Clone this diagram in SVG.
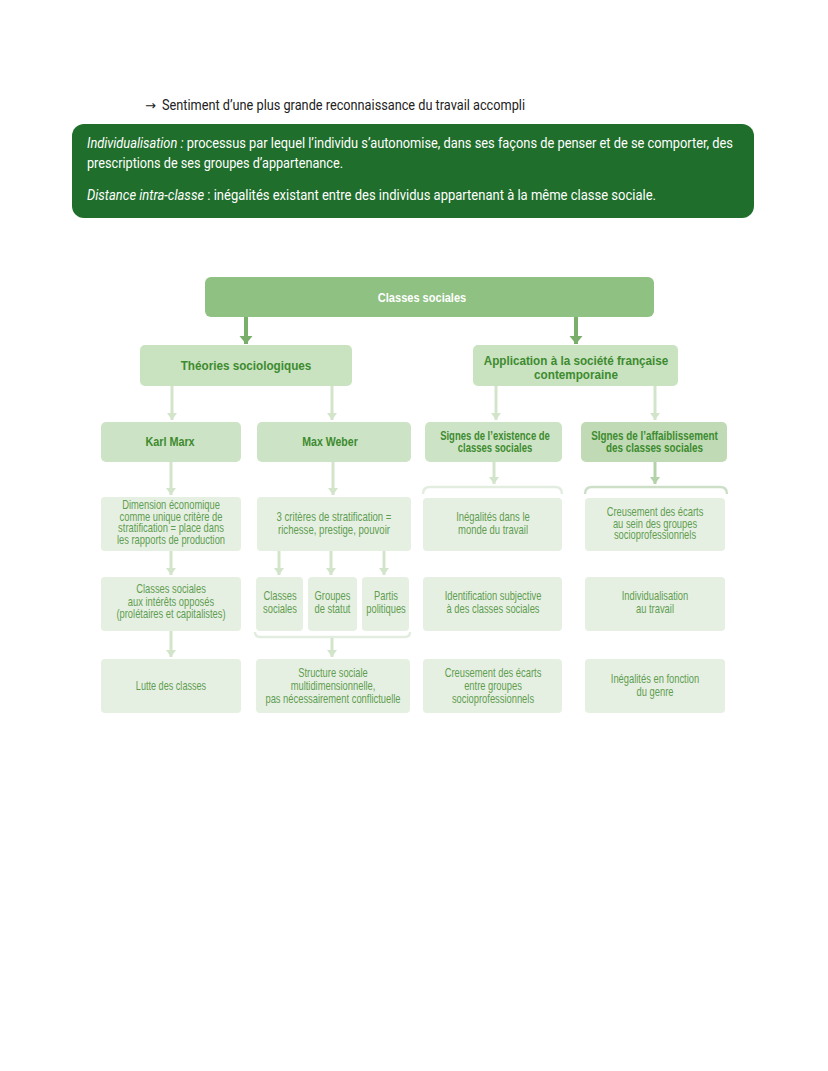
<svg xmlns="http://www.w3.org/2000/svg" width="828" height="1071" viewBox="0 0 828 1071">
<style>
.top{font-family:Roboto,"Liberation Sans",sans-serif;font-size:14px;fill:#222}
.arr{font-family:"DejaVu Sans",sans-serif;font-size:13px;fill:#222}
.def{font-family:Roboto,"Liberation Sans",sans-serif;font-size:14px;fill:#fff}
.it{font-style:italic}
.root{fill:#8fc182}
.l1{fill:#c9e2c0}
.l2{fill:#cde3c5}
.l2d{fill:#bfdab4}
.bx{fill:#e6f0e2}
.hw{font-family:"Liberation Sans",Arial,sans-serif;font-weight:bold;font-size:13px;fill:#fff;text-anchor:middle}
.h{font-family:"Liberation Sans",Arial,sans-serif;font-weight:bold;font-size:13px;fill:#3d8b2f;text-anchor:middle}
.h2{font-family:"Liberation Sans",Arial,sans-serif;font-weight:bold;font-size:12px;fill:#3d8b2f;text-anchor:middle}
.h3{font-family:"Liberation Sans",Arial,sans-serif;font-weight:bold;font-size:12.5px;fill:#3d8b2f;text-anchor:middle}
.t{font-family:"Liberation Sans",Arial,sans-serif;font-size:12px;fill:#5f9d51;text-anchor:middle}
.ad{stroke:#7aae6b;stroke-width:4;fill:none}
.al{stroke:#d2e5cb;stroke-width:3;fill:none}
.am{stroke:#b3d2a8;stroke-width:3;fill:none}
</style>
<defs>
<marker id="hd" markerUnits="userSpaceOnUse" viewBox="0 -7 8 14" markerWidth="8" markerHeight="14" refX="8" refY="0" orient="auto"><path d="M0,-6.5 L8,0 L0,6.5 Z" fill="#7aae6b"/></marker>
<marker id="hl" markerUnits="userSpaceOnUse" viewBox="0 -5 7 10" markerWidth="7" markerHeight="10" refX="7" refY="0" orient="auto"><path d="M0,-5 L7,0 L0,5 Z" fill="#d2e5cb"/></marker>
<marker id="hm" markerUnits="userSpaceOnUse" viewBox="0 -5 7 10" markerWidth="7" markerHeight="10" refX="7" refY="0" orient="auto"><path d="M0,-5 L7,0 L0,5 Z" fill="#b3d2a8"/></marker>
</defs>
<rect width="828" height="1071" fill="#fff"/>

<g id="intro">
<text class="arr" x="145" y="110">→</text>
<text class="top" x="162" y="110" textLength="363" lengthAdjust="spacingAndGlyphs">Sentiment d’une plus grande reconnaissance du travail accompli</text>
</g>

<g id="definitions">
<rect x="72" y="124" width="682" height="94" rx="12" fill="#1f6e2b"/>
<text class="def" x="87" y="148" textLength="646" lengthAdjust="spacingAndGlyphs"><tspan class="it">Individualisation :</tspan> processus par lequel l’individu s’autonomise, dans ses façons de penser et de se comporter, des</text>
<text class="def" x="87" y="168" textLength="256" lengthAdjust="spacingAndGlyphs">prescriptions de ses groupes d’appartenance.</text>
<text class="def" x="87" y="200" textLength="569" lengthAdjust="spacingAndGlyphs"><tspan class="it">Distance intra-classe</tspan> : inégalités existant entre des individus appartenant à la même classe sociale.</text>
</g>

<g id="connectors">
<line class="ad" x1="246" y1="317" x2="246" y2="344" marker-end="url(#hd)"/>
<line class="ad" x1="576" y1="317" x2="576" y2="344" marker-end="url(#hd)"/>
<line class="al" x1="172" y1="386" x2="172" y2="420" marker-end="url(#hl)"/>
<line class="al" x1="332" y1="386" x2="332" y2="420" marker-end="url(#hl)"/>
<line class="al" x1="496" y1="386" x2="496" y2="420" marker-end="url(#hl)"/>
<line class="al" x1="655" y1="386" x2="655" y2="420" marker-end="url(#hl)"/>
<line class="al" x1="171" y1="462" x2="171" y2="495" marker-end="url(#hl)"/>
<line class="al" x1="333" y1="462" x2="333" y2="495" marker-end="url(#hl)"/>
<line class="al" x1="494" y1="462" x2="494" y2="484" marker-end="url(#hl)"/>
<line class="am" x1="655" y1="462" x2="655" y2="484" marker-end="url(#hm)"/>
<path d="M423,494 Q423,487 430,487 L555,487 Q562,487 562,494" stroke="#e2ede0" stroke-width="2.5" fill="none"/>
<path d="M585,494 Q585,487 592,487 L720,487 Q727,487 727,494" stroke="#cde0c7" stroke-width="2.5" fill="none"/>
<line class="al" x1="171" y1="551" x2="171" y2="575" marker-end="url(#hl)"/>
<line class="al" x1="279" y1="551" x2="279" y2="575" marker-end="url(#hl)"/>
<line class="al" x1="331" y1="551" x2="331" y2="575" marker-end="url(#hl)"/>
<line class="al" x1="384" y1="551" x2="384" y2="575" marker-end="url(#hl)"/>
<path d="M255,632 Q255,637 260,637 L405,637 Q410,637 410,632" stroke="#e2ede0" stroke-width="2.5" fill="none"/>
<line class="al" x1="171" y1="631" x2="171" y2="657" marker-end="url(#hl)"/>
<line class="al" x1="332" y1="638" x2="332" y2="657" marker-end="url(#hl)"/>
</g>

<g id="n-classes">
<rect class="root" x="205" y="277" width="449" height="40" rx="6"/>
<text class="hw" transform="translate(422 302) scale(0.85 1)">Classes sociales</text>
</g>

<g id="n-theories">
<rect class="l1" x="140" y="345" width="212" height="41" rx="5"/>
<text class="h" transform="translate(246 369.5) scale(0.9 1)">Théories sociologiques</text>
</g>

<g id="n-application">
<rect class="l1" x="473" y="345" width="205" height="41" rx="5"/>
<text class="h" transform="translate(576 365) scale(0.9 1)">Application à la société française</text>
<text class="h" transform="translate(576 379) scale(0.9 1)">contemporaine</text>
</g>

<g id="n-marx">
<rect class="l2" x="101" y="422" width="140" height="40" rx="5"/>
<text class="h2" transform="translate(170 445.5) scale(0.9 1)">Karl Marx</text>
</g>

<g id="n-weber">
<rect class="l2" x="257" y="422" width="154" height="40" rx="5"/>
<text class="h2" transform="translate(330 445.5) scale(0.88 1)">Max Weber</text>
</g>

<g id="n-signes-existence">
<rect class="l2" x="425" y="422" width="137" height="40" rx="5"/>
<text class="h3" transform="translate(495 439.5) scale(0.76 1)">Signes de l’existence de</text>
<text class="h3" transform="translate(495 452) scale(0.76 1)">classes sociales</text>
</g>

<g id="n-signes-affaiblissement">
<rect class="l2d" x="581" y="422" width="146" height="40" rx="5"/>
<text class="h3" transform="translate(654.5 439.5) scale(0.79 1)">SIgnes de l’affaiblissement</text>
<text class="h3" transform="translate(654.5 452) scale(0.79 1)">des classes sociales</text>
</g>

<g id="n-dimension">
<rect class="bx" x="101" y="497" width="140" height="54" rx="4"/>
<text class="t" transform="translate(171 509) scale(0.78 1)">Dimension économique</text>
<text class="t" transform="translate(171 520.7) scale(0.78 1)">comme unique critère de</text>
<text class="t" transform="translate(171 532.4) scale(0.78 1)">stratification = place dans</text>
<text class="t" transform="translate(171 544) scale(0.78 1)">les rapports de production</text>
</g>

<g id="n-criteres">
<rect class="bx" x="257" y="497" width="154" height="54" rx="4"/>
<text class="t" transform="translate(334 521) scale(0.8 1)">3 critères de stratification =</text>
<text class="t" transform="translate(334 534) scale(0.8 1)">richesse, prestige, pouvoir</text>
</g>

<g id="n-inegalites-travail">
<rect class="bx" x="423" y="498" width="139" height="53" rx="4"/>
<text class="t" transform="translate(493 521) scale(0.79 1)">Inégalités dans le</text>
<text class="t" transform="translate(493 534) scale(0.79 1)">monde du travail</text>
</g>

<g id="n-creusement-sein">
<rect class="bx" x="585" y="498" width="140" height="53" rx="4"/>
<text class="t" transform="translate(655 516) scale(0.78 1)">Creusement des écarts</text>
<text class="t" transform="translate(655 527.5) scale(0.78 1)">au sein des groupes</text>
<text class="t" transform="translate(655 539) scale(0.78 1)">socioprofessionnels</text>
</g>

<g id="n-interets">
<rect class="bx" x="101" y="577" width="140" height="54" rx="4"/>
<text class="t" transform="translate(171 593) scale(0.78 1)">Classes sociales</text>
<text class="t" transform="translate(171 605.5) scale(0.78 1)">aux intérêts opposés</text>
<text class="t" transform="translate(171 618) scale(0.78 1)">(prolétaires et capitalistes)</text>
</g>

<g id="n-w-classes">
<rect class="bx" x="256" y="577" width="47" height="54" rx="4"/>
<text class="t" transform="translate(280 600) scale(0.78 1)">Classes</text>
<text class="t" transform="translate(280 612.5) scale(0.78 1)">sociales</text>
</g>

<g id="n-w-groupes">
<rect class="bx" x="308" y="577" width="49" height="54" rx="4"/>
<text class="t" transform="translate(332.5 600) scale(0.78 1)">Groupes</text>
<text class="t" transform="translate(332.5 612.5) scale(0.78 1)">de statut</text>
</g>

<g id="n-w-partis">
<rect class="bx" x="362" y="577" width="47" height="54" rx="4"/>
<text class="t" transform="translate(386 600) scale(0.78 1)">Partis</text>
<text class="t" transform="translate(386 612.5) scale(0.78 1)">politiques</text>
</g>

<g id="n-identification">
<rect class="bx" x="423" y="577" width="139" height="54" rx="4"/>
<text class="t" transform="translate(493 600) scale(0.78 1)">Identification subjective</text>
<text class="t" transform="translate(493 612.5) scale(0.78 1)">à des classes sociales</text>
</g>

<g id="n-individualisation">
<rect class="bx" x="585" y="577" width="140" height="54" rx="4"/>
<text class="t" transform="translate(655 600) scale(0.78 1)">Individualisation</text>
<text class="t" transform="translate(655 612.5) scale(0.78 1)">au travail</text>
</g>

<g id="n-lutte">
<rect class="bx" x="101" y="659" width="140" height="54" rx="4"/>
<text class="t" transform="translate(171 689.5) scale(0.76 1)">Lutte des classes</text>
</g>

<g id="n-structure">
<rect class="bx" x="256" y="659" width="154" height="54" rx="4"/>
<text class="t" transform="translate(333 677) scale(0.78 1)">Structure sociale</text>
<text class="t" transform="translate(333 690) scale(0.78 1)">multidimensionnelle,</text>
<text class="t" transform="translate(333 703) scale(0.78 1)">pas nécessairement conflictuelle</text>
</g>

<g id="n-creusement-entre">
<rect class="bx" x="423" y="659" width="139" height="54" rx="4"/>
<text class="t" transform="translate(493 677) scale(0.78 1)">Creusement des écarts</text>
<text class="t" transform="translate(493 690) scale(0.78 1)">entre groupes</text>
<text class="t" transform="translate(493 703) scale(0.78 1)">socioprofessionnels</text>
</g>

<g id="n-genre">
<rect class="bx" x="585" y="659" width="140" height="54" rx="4"/>
<text class="t" transform="translate(655 683) scale(0.78 1)">Inégalités en fonction</text>
<text class="t" transform="translate(655 696) scale(0.78 1)">du genre</text>
</g>
</svg>
